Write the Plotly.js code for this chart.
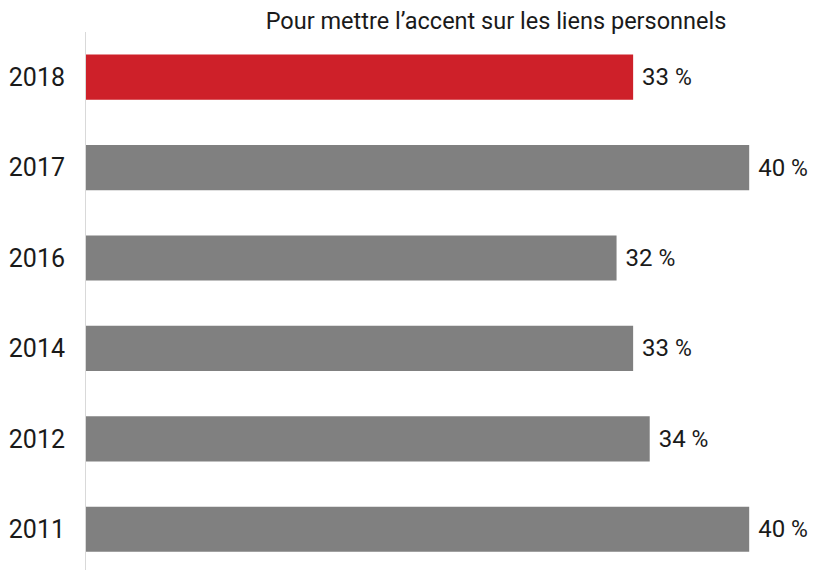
<!DOCTYPE html>
<html><head><meta charset="utf-8">
<script src="https://cdn.plot.ly/plotly-3.0.1.min.js"></script>
<style>html,body{margin:0;padding:0;background:#fff;}#chart{width:820px;height:570px;}</style>
</head><body><div id="chart"></div>
<script>
const years = ['2011', '2012', '2014', '2016', '2017', '2018'];
const values = [40, 34, 33, 32, 40, 33];
const barColors = ['#808080', '#808080', '#808080', '#808080', '#808080', '#CE2029'];
const titleText = 'Pour mettre l’accent sur les liens personnels';
const FONT = 'Roboto, "Liberation Sans", sans-serif';

const trace = {
  type: 'bar', orientation: 'h',
  x: values, y: years,
  marker: {color: barColors},
  width: 0.5,
  texttemplate: ' %{x} <span style="font-size:23px">%</span>',
  textposition: 'outside',
  cliponaxis: false,
  textfont: {family: FONT, size: 24, color: '#1a1a1a'},
  hoverinfo: 'none'
};
const layout = {
  width: 820, height: 570,
  margin: {l: 86, r: 0, t: 32, b: 0, pad: 0},
  paper_bgcolor: '#fff', plot_bgcolor: '#fff',
  showlegend: false,
  font: {family: FONT, color: '#1a1a1a'},
  title: {text: titleText, font: {family: FONT, size: 23.5, color: '#1a1a1a'},
          xref: 'container', x: 496/820, xanchor: 'center',
          yref: 'container', y: 1 - 21/570, yanchor: 'middle'},
  xaxis: {range: [0, 44.27], showgrid: false, zeroline: false, showline: false,
          showticklabels: false, ticks: ''},
  yaxis: {type: 'category', categoryorder: 'array', categoryarray: years,
          range: [-0.451, 5.5], showgrid: false, zeroline: false,
          showline: true, linecolor: '#d9d9d9', linewidth: 1,
          ticks: '', ticklabelstandoff: 15,
          tickfont: {family: FONT, size: 25, color: '#1a1a1a'}}
};
Plotly.newPlot('chart', [trace], layout, {displayModeBar: false, staticPlot: true});
</script></body></html>
